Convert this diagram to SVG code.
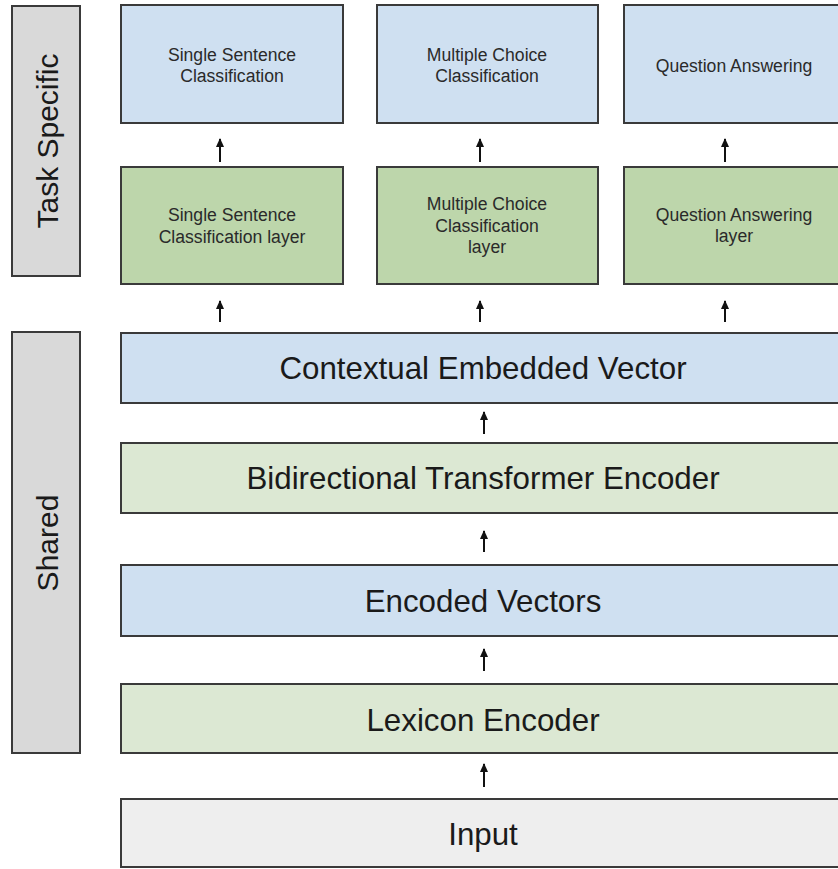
<svg xmlns="http://www.w3.org/2000/svg" width="838" height="869" viewBox="0 0 838 869">
<defs>
<marker id="ah" markerUnits="userSpaceOnUse" markerWidth="9" markerHeight="8" refX="8" refY="4" orient="auto" viewBox="0 0 9 8">
<path d="M0 0 L9 4 L0 8 Z" fill="#111"/>
</marker>
</defs>
<style>
.box{stroke:#3a3a3a;stroke-width:2}
.side{fill:#d9d9d9}
.blue{fill:#cfe0f1}
.green{fill:#bdd6ab}
.lgreen{fill:#dce8d3}
.input{fill:#eeeeee}
.sm{font-family:"Liberation Sans",Arial,sans-serif;font-size:17.6px;fill:#2a2a2a;text-anchor:middle}
.lg{font-family:"Liberation Sans",Arial,sans-serif;font-size:31.3px;fill:#1a1a1a;text-anchor:middle}
.sd{font-family:"Liberation Sans",Arial,sans-serif;font-size:30px;fill:#1a1a1a;text-anchor:middle}
.arr{stroke:#111;stroke-width:2;fill:none;marker-end:url(#ah)}
</style>
<rect width="838" height="869" fill="#ffffff"/>

<g id="task-specific">
<rect class="box side" x="12" y="6" width="68" height="270"/>
<text class="sd" transform="translate(58,141) rotate(-90)">Task Specific</text>
</g>
<g id="shared">
<rect class="box side" x="12" y="332" width="68" height="421"/>
<text class="sd" transform="translate(58,543) rotate(-90)">Shared</text>
</g>

<g id="single-sentence-classification">
<rect class="box blue" x="121" y="5" width="222" height="118"/>
<text class="sm" x="232" y="61">Single Sentence</text>
<text class="sm" x="232" y="82">Classification</text>
</g>
<g id="multiple-choice-classification">
<rect class="box blue" x="377" y="5" width="221" height="118"/>
<text class="sm" x="487" y="61">Multiple Choice</text>
<text class="sm" x="487" y="82">Classification</text>
</g>
<g id="question-answering">
<rect class="box blue" x="624" y="5" width="222" height="118"/>
<text class="sm" x="734" y="72">Question Answering</text>
</g>

<g id="single-sentence-layer">
<rect class="box green" x="121" y="167" width="222" height="117"/>
<text class="sm" x="232" y="221">Single Sentence</text>
<text class="sm" x="232" y="243">Classification layer</text>
</g>
<g id="multiple-choice-layer">
<rect class="box green" x="377" y="167" width="221" height="117"/>
<text class="sm" x="487" y="210">Multiple Choice</text>
<text class="sm" x="487" y="232">Classification</text>
<text class="sm" x="487" y="253">layer</text>
</g>
<g id="question-answering-layer">
<rect class="box green" x="624" y="167" width="222" height="117"/>
<text class="sm" x="734" y="221">Question Answering</text>
<text class="sm" x="734" y="242">layer</text>
</g>

<g id="contextual-embedded-vector">
<rect class="box blue" x="121" y="333" width="725" height="70"/>
<text class="lg" x="483" y="379">Contextual Embedded Vector</text>
</g>
<g id="bidirectional-transformer-encoder">
<rect class="box lgreen" x="121" y="443" width="725" height="70"/>
<text class="lg" x="483" y="489">Bidirectional Transformer Encoder</text>
</g>
<g id="encoded-vectors">
<rect class="box blue" x="121" y="565" width="725" height="71"/>
<text class="lg" x="483" y="612">Encoded Vectors</text>
</g>
<g id="lexicon-encoder">
<rect class="box lgreen" x="121" y="684" width="725" height="69"/>
<text class="lg" x="483" y="731">Lexicon Encoder</text>
</g>
<g id="input">
<rect class="box input" x="121" y="799" width="725" height="68"/>
<text class="lg" x="483" y="845">Input</text>
</g>

<g id="connectors">
<line class="arr" x1="220" y1="162" x2="220" y2="139"/>
<line class="arr" x1="480" y1="162" x2="480" y2="139"/>
<line class="arr" x1="725" y1="162" x2="725" y2="139"/>
<line class="arr" x1="220" y1="322" x2="220" y2="301"/>
<line class="arr" x1="480" y1="322" x2="480" y2="301"/>
<line class="arr" x1="725" y1="322" x2="725" y2="301"/>
<line class="arr" x1="484" y1="434" x2="484" y2="412"/>
<line class="arr" x1="484" y1="552" x2="484" y2="531"/>
<line class="arr" x1="484" y1="671" x2="484" y2="649"/>
<line class="arr" x1="484" y1="787" x2="484" y2="764"/>
</g>
</svg>
